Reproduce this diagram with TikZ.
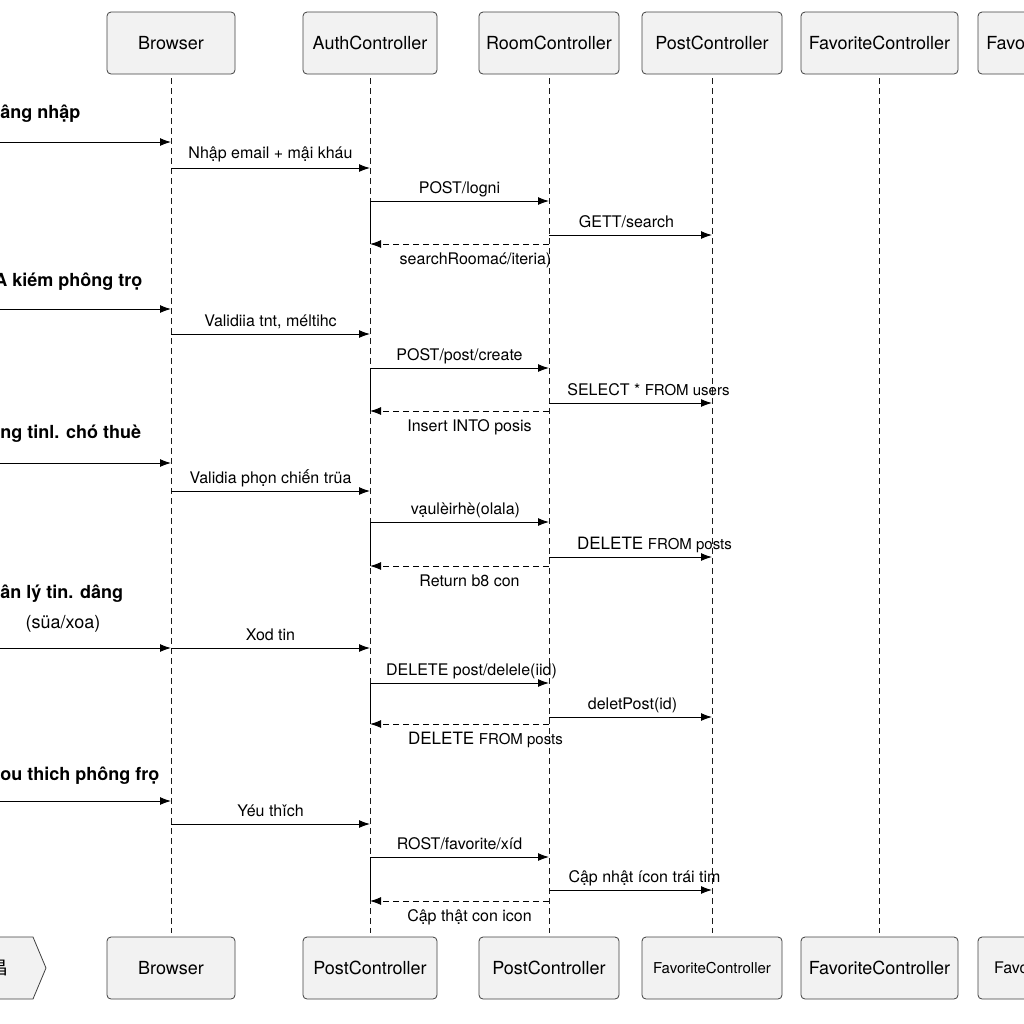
\documentclass[tikz,border=0pt]{standalone}
\usepackage{fontspec}
\setmainfont{TeX Gyre Heros}
\newfontfamily\cjkfont{Noto Sans CJK SC}
\usetikzlibrary{arrows.meta, positioning}

\begin{document}
\begin{tikzpicture}[
    x=0.5pt, y=-0.5pt,
    box/.style={draw=black!75, fill=gray!10, rounded corners=2pt, minimum height=31pt, inner sep=0pt, font=\fontsize{9}{11}\selectfont},
    lifeline/.style={black!90, dash pattern=on 3pt off 2pt, line width=0.5pt},
    msg/.style={-{Latex[length=5.5pt, width=4pt]}, line width=0.5pt},
    ret/.style={msg, dash pattern=on 3pt off 2pt},
    lbl/.style={font=\fontsize{8}{10}\selectfont, anchor=base, yshift=4pt},
    rlbl/.style={font=\fontsize{8}{10}\selectfont, anchor=base, yshift=-10pt, xshift=5pt},
    stage/.style={font=\fontsize{9}{11}\selectfont\bfseries, anchor=base west, inner sep=0pt}
]
\useasboundingbox (0,0) rectangle (1024,1024);

% Participants (top)
\node[box, minimum width=64pt] (browser) at (171,43) {Browser};
\node[box, minimum width=67pt] (auth) at (370,43) {AuthController};
\node[box, minimum width=70pt] (room) at (549,43) {RoomController};
\node[box, minimum width=70pt] (post) at (712,43) {PostController};
\node[box, minimum width=78.5pt] (fav) at (879.5,43) {FavoriteController};
\node[box, minimum width=79pt] (favo) at (1057,43) {FavoriteController};

% Participants (bottom)
\draw[black!75, fill=gray!10] (-20,937) -- (33,937) -- (46,968) -- (33,999) -- (-20,999) -- cycle;
\node[font=\cjkfont\fontsize{9}{11}\selectfont, anchor=east, inner sep=0pt] (start) at (9,968) {昌};
\node[box, minimum width=64pt] (browserB) at (171,968) {Browser};
\node[box, minimum width=67pt] (postB) at (370,968) {PostController};
\node[box, minimum width=70pt] (postC) at (549,968) {PostController};
\node[box, minimum width=70pt, font=\fontsize{7.5}{9}\selectfont] (favB) at (712,968) {FavoriteController};
\node[box, minimum width=78.5pt] (favC) at (879.5,968) {FavoriteController};
\node[box, minimum width=79pt, font=\fontsize{8}{9}\selectfont] (favoB) at (1057,968) {FavoriteController};

% Lifelines
\foreach \a/\b in {browser/browserB, auth/postB, room/postC, post/favB, fav/favC, favo/favoB}
  \draw[lifeline] ([yshift=-2pt]\a.south) -- ([yshift=2pt]\b.north);

% Dang nhap
\node[stage] (s1) at (0,118) {âng nhập};
\coordinate (in1) at (0,142);
\coordinate (m1) at (0,168);
\coordinate (m2) at (0,201);
\coordinate (m3) at (0,235);
\coordinate (r1) at (0,244);
\draw[msg] (in1) -- (browser |- in1);
\draw[msg] (browser |- m1) -- node[lbl, yshift=1pt] {Nhập email + mậi kháu} (auth |- m1);
\draw[msg] (auth |- m2) -- node[lbl] {POST/logni} (room |- m2);
\draw[msg] (room |- m3) -- node[lbl, xshift=-2pt] {GETT/search} (post |- m3);
\draw[ret] (room |- r1) -- node[rlbl, xshift=3pt] {searchRoomać/iteria)} (auth |- r1);
\draw[line width=0.5pt] (auth |- m2) -- (auth |- r1);

% Tim kiem phong tro
\node[stage] (s2) at (-6,286) {A kiém phông trọ};
\coordinate (in2) at (0,309);
\coordinate (m4) at (0,334);
\coordinate (m5) at (0,368);
\coordinate (m6) at (0,403);
\coordinate (r2) at (0,411);
\draw[msg] (in2) -- (browser |- in2);
\draw[msg] (browser |- m4) -- node[lbl] {Validiia tnt, méltihc} (auth |- m4);
\draw[msg] (auth |- m5) -- node[lbl] {POST/post/create} (room |- m5);
\draw[msg] (room |- m6) -- node[lbl, xshift=9pt] {SELECT * {\fontsize{7.5}{9}\selectfont FROM users}} (post |- m6);
\draw[ret] (room |- r2) -- node[rlbl] {Insert INTO posis} (auth |- r2);
\draw[line width=0.5pt] (auth |- m5) -- (auth |- r2);

% Dang tin cho thue
\node[stage] (s3) at (0,438) {ng tinl. chó thuè};
\coordinate (in3) at (0,463);
\coordinate (m7) at (0,491);
\coordinate (m8) at (0,522);
\coordinate (m9) at (0,557);
\coordinate (r3) at (0,566);
\draw[msg] (in3) -- (browser |- in3);
\draw[msg] (browser |- m7) -- node[lbl] {Validia phọn chiến trüa} (auth |- m7);
\draw[msg] (auth |- m8) -- node[lbl, xshift=3pt] {vạulèirhè(olala)} (room |- m8);
\draw[msg] (room |- m9) -- node[lbl, xshift=12pt] {\fontsize{8.5}{10}\selectfont DELETE {\fontsize{7.5}{9}\selectfont FROM posts}} (post |- m9);
\draw[ret] (room |- r3) -- node[rlbl] {Return b8 con} (auth |- r3);
\draw[line width=0.5pt] (auth |- m8) -- (auth |- r3);

% Quan ly tin dang
\node[stage] (s4) at (0,598) {ân lý tin. dâng};
\node[stage, anchor=base] (s4b) at (63,628) {\mdseries(süa/xoa)};
\coordinate (in4) at (0,648);
\coordinate (m10) at (0,648);
\coordinate (m11) at (0,683);
\coordinate (m12) at (0,717);
\coordinate (r4) at (0,724);
\draw[msg] (in4) -- (browser |- in4);
\draw[msg] (browser |- m10) -- node[lbl] {Xod tin} (auth |- m10);
\draw[msg] (auth |- m11) -- node[lbl, xshift=6pt] {DELETE post/delele(iid)} (room |- m11);
\draw[msg] (room |- m12) -- node[lbl, xshift=1pt] {deletPost(id)} (post |- m12);
\draw[ret] (room |- r4) -- node[rlbl, xshift=8pt] {\fontsize{8.5}{10}\selectfont DELETE {\fontsize{7.5}{9}\selectfont FROM posts}} (auth |- r4);
\draw[line width=0.5pt] (auth |- m11) -- (auth |- r4);

% Yeu thich phong tro
\node[stage] (s5) at (0,780) {ou thich phông frọ};
\coordinate (in5) at (0,801);
\coordinate (m13) at (0,824);
\coordinate (m14) at (0,857);
\coordinate (m15) at (0,890);
\coordinate (r5) at (0,901);
\draw[msg] (in5) -- (browser |- in5);
\draw[msg] (browser |- m13) -- node[lbl] {Yéu thǐch} (auth |- m13);
\draw[msg] (auth |- m14) -- node[lbl] {ROST/favorite/xíd} (room |- m14);
\draw[msg] (room |- m15) -- node[lbl, xshift=7pt] {Cập nhật ícon trái tim} (post |- m15);
\draw[ret] (room |- r5) -- node[rlbl] {Cập thật con icon} (auth |- r5);
\draw[line width=0.5pt] (auth |- m14) -- (auth |- r5);

\end{tikzpicture}
\end{document}
